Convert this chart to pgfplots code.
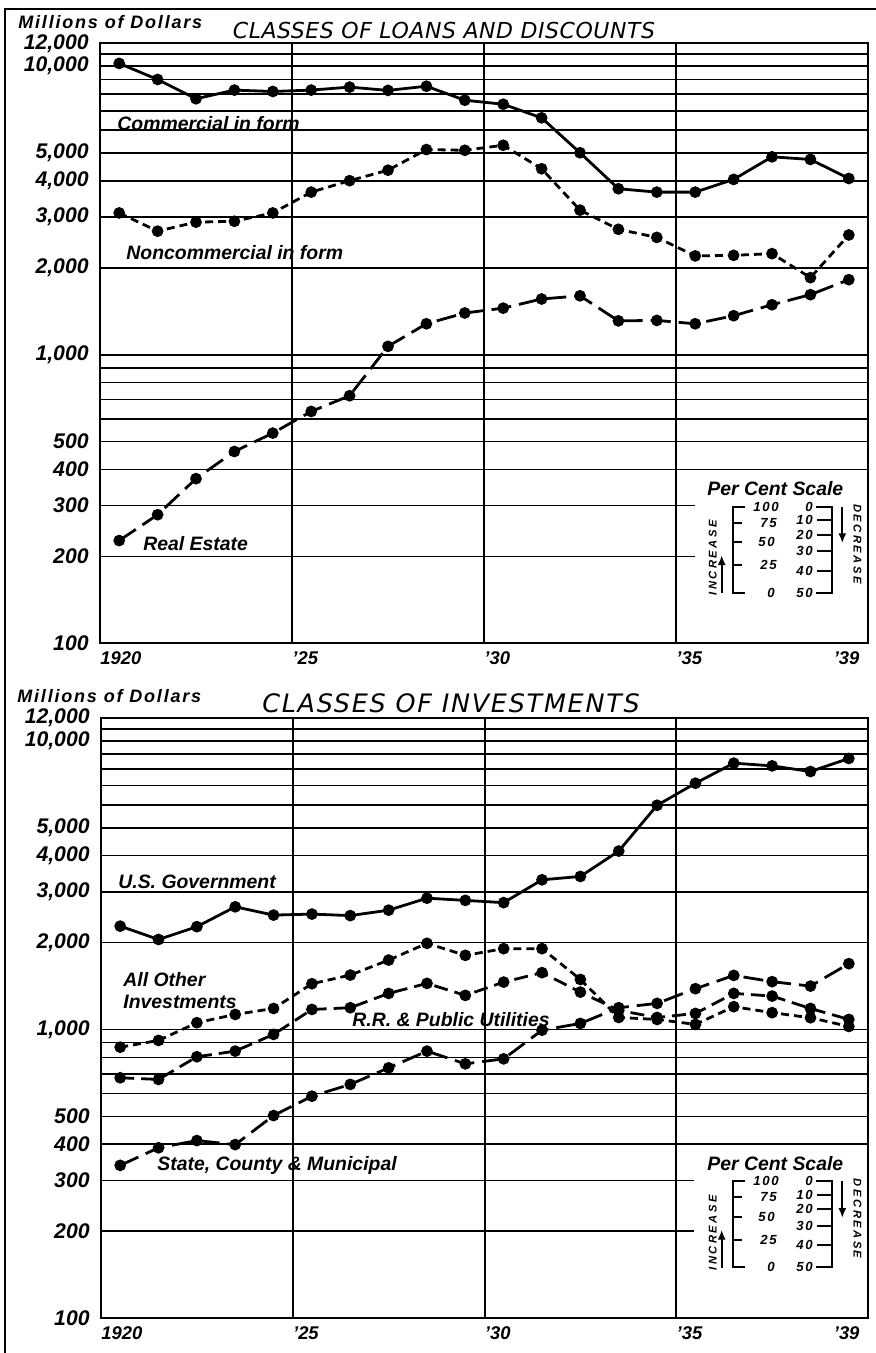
\documentclass[border=0pt]{standalone}
\usepackage{fontspec}
\setmainfont{Liberation Sans}
\newfontfamily\titleA[LetterSpace=2.5]{DejaVu Sans}
\newfontfamily\titleB[LetterSpace=7]{DejaVu Sans}
\newfontfamily\millf[LetterSpace=10]{Liberation Sans}
\newfontfamily\widef[LetterSpace=22]{Liberation Sans}
\newfontfamily\numf[LetterSpace=12]{Liberation Sans}
\usepackage{pgfplots}
\pgfplotsset{compat=1.18}
\usetikzlibrary{arrows.meta}

\newcommand{\ytickfont}{\fontsize{10.6}{12}\selectfont\bfseries\itshape}
\newcommand{\xtickfont}{\fontsize{9.2}{11}\selectfont\bfseries\itshape}
\newcommand{\labfont}{\fontsize{9.7}{11}\selectfont\bfseries\itshape}
\newcommand{\insfont}{\numf\fontsize{6.6}{7}\selectfont\bfseries\itshape}

\newcommand{\inset}[1]{%
\begin{scope}[shift={(0,#1)}]
 \node[anchor=base west, inner sep=0pt, font=\labfont] at (707,495.7) {Per Cent Scale};
 \draw[line width=1pt] (745,506.7) -- (732.7,506.7) -- (732.7,592.7) -- (745,592.7);
 \foreach \yy in {522.6,541.9,564.8} \draw[line width=1pt] (732.7,\yy) -- (742,\yy);
 \node[anchor=east, inner sep=0pt, font=\insfont] at (779,506.7) {100};
 \node[anchor=east, inner sep=0pt, font=\insfont] at (777,522.6) {75};
 \node[anchor=east, inner sep=0pt, font=\insfont] at (775,541.9) {50};
 \node[anchor=east, inner sep=0pt, font=\insfont] at (777,564.8) {25};
 \node[anchor=east, inner sep=0pt, font=\insfont] at (775,592.7) {0};
 \draw[line width=1pt] (816,506.7) -- (831.7,506.7) -- (831.7,592.7) -- (816,592.7);
 \foreach \yy in {519.9,534.6,551.4,570.7} \draw[line width=1pt] (817,\yy) -- (831.7,\yy);
 \node[anchor=east, inner sep=0pt, font=\insfont] at (813,506.7) {0};
 \node[anchor=east, inner sep=0pt, font=\insfont] at (813,519.9) {10};
 \node[anchor=east, inner sep=0pt, font=\insfont] at (813,534.6) {20};
 \node[anchor=east, inner sep=0pt, font=\insfont] at (813,551.4) {30};
 \node[anchor=east, inner sep=0pt, font=\insfont] at (813,570.7) {40};
 \node[anchor=east, inner sep=0pt, font=\insfont] at (813,592.7) {50};
 \draw[line width=1pt, -{Latex[length=5pt,width=4pt]}] (721.7,593) -- (721.7,555);
 \draw[line width=1pt, -{Latex[length=5pt,width=4pt]}] (842.3,506.7) -- (842.3,543.3);
 \node[rotate=90, inner sep=0pt, font=\widef\fontsize{5.6}{6}\selectfont\bfseries\itshape] at (712.7,558) {INCREASE};
 \node[rotate=-90, inner sep=0pt, font=\widef\fontsize{5.6}{6}\selectfont\bfseries\itshape] at (857.5,544) {DECREASE};
\end{scope}}

\begin{document}
\begin{tikzpicture}
\begin{scope}[x=0.5pt,y=-0.5pt]
\useasboundingbox (0,0) rectangle (876,1353);
\draw[line width=1pt] (876,9) -- (5,9) -- (5,1353);
\end{scope}

% ---------------- top panel ----------------
\begin{axis}[at={(50pt,-321.65pt)}, anchor=south west, width=384pt,
  scale only axis, height=300pt,
  xmin=1920, xmax=1940, ymode=log, ymin=100, ymax=12000,
  axis line style={line width=1pt},
  major tick length=0pt, minor tick length=0pt,
  /pgf/number format/assume math mode=true,
  xtick={1920,1925,1930,1935,1939.1}, xticklabels={1920,'25,'30,'35,'39},
  xmajorgrids=false,
  xticklabel style={anchor=north west, inner xsep=0pt, inner ysep=0pt, yshift=-4pt, font=\xtickfont},
  ytick={100,200,300,400,500,1000,2000,3000,4000,5000,10000,12000},
  yticklabels={100,200,300,400,500,{1,000},{2,000},{3,000},{4,000},{5,000},{10,000},{12,000}},
  ymajorgrids=false,
  yticklabel style={anchor=east, inner xsep=0pt, xshift=-5.5pt, font=\ytickfont},
]
\foreach \v in {400,500,600,700,800,900,1000,2000,3000,4000,5000,6000,7000,8000,9000,10000,11000}
  {\edef\tmp{\noexpand\draw[line width=0.8pt] (axis cs:1920,\v) -- (axis cs:1940,\v);}\tmp}
\draw[line width=0.8pt] (axis cs:1920,200) -- (axis cs:1935.5,200);
\draw[line width=0.8pt] (axis cs:1920,300) -- (axis cs:1935.5,300);
\foreach \yr in {1925,1930,1935}
  {\edef\tmp{\noexpand\draw[line width=1pt] (axis cs:\yr,100) -- (axis cs:\yr,12000);}\tmp}
% Commercial in form
\addplot[black, line width=1.4pt, solid, mark=*, mark size=2.2pt, mark options={solid}] coordinates {
(1920.5,10220) (1921.5,8990) (1922.5,7710) (1923.5,8260) (1924.5,8170)
(1925.5,8260) (1926.5,8460) (1927.5,8240) (1928.5,8520) (1929.5,7620)
(1930.5,7380) (1931.5,6620) (1932.5,5010) (1933.5,3760) (1934.5,3660)
(1935.5,3660) (1936.5,4050) (1937.5,4850) (1938.5,4750) (1939.5,4080)};
% Noncommercial in form
\addplot[black, line width=1.4pt, dash pattern=on 4pt off 2.5pt, mark=*, mark size=2.2pt, mark options={solid}] coordinates {
(1920.5,3100) (1921.5,2680) (1922.5,2880) (1923.5,2900) (1924.5,3100)
(1925.5,3660) (1926.5,4010) (1927.5,4360) (1928.5,5140) (1929.5,5110)
(1930.5,5320) (1931.5,4410) (1932.5,3170) (1933.5,2720) (1934.5,2550)
(1935.5,2200) (1936.5,2210) (1937.5,2240) (1938.5,1850) (1939.5,2600)};
% Real Estate
\addplot[black, line width=1.4pt, dash pattern=on 10pt off 4pt, mark=*, mark size=2.2pt, mark options={solid}] coordinates {
(1920.5,227) (1921.5,279) (1922.5,372) (1923.5,462) (1924.5,535)
(1925.5,636) (1926.5,721) (1927.5,1069) (1928.5,1280) (1929.5,1395)
(1930.5,1450) (1931.5,1560) (1932.5,1600) (1933.5,1310) (1934.5,1315)
(1935.5,1280) (1936.5,1365) (1937.5,1490) (1938.5,1615) (1939.5,1820)};
\end{axis}

% ---------------- bottom panel ----------------
\begin{axis}[at={(50.5pt,-659pt)}, anchor=south west, width=383.5pt,
  scale only axis, height=300pt,
  xmin=1920, xmax=1940, ymode=log, ymin=100, ymax=12000,
  axis line style={line width=1pt},
  major tick length=0pt, minor tick length=0pt,
  /pgf/number format/assume math mode=true,
  xtick={1920,1925,1930,1935,1939.1}, xticklabels={1920,'25,'30,'35,'39},
  xmajorgrids=false,
  xticklabel style={anchor=north west, inner xsep=0pt, inner ysep=0pt, yshift=-4pt, font=\xtickfont},
  ytick={100,200,300,400,500,1000,2000,3000,4000,5000,10000,12000},
  yticklabels={100,200,300,400,500,{1,000},{2,000},{3,000},{4,000},{5,000},{10,000},{12,000}},
  ymajorgrids=false,
  yticklabel style={anchor=east, inner xsep=0pt, xshift=-5.5pt, font=\ytickfont},
]
\foreach \v in {400,500,600,700,800,900,1000,2000,3000,4000,5000,6000,7000,8000,9000,10000,11000}
  {\edef\tmp{\noexpand\draw[line width=0.8pt] (axis cs:1920,\v) -- (axis cs:1940,\v);}\tmp}
\draw[line width=0.8pt] (axis cs:1920,200) -- (axis cs:1935.45,200);
\draw[line width=0.8pt] (axis cs:1920,300) -- (axis cs:1935.45,300);
\foreach \yr in {1925,1930,1935}
  {\edef\tmp{\noexpand\draw[line width=1pt] (axis cs:\yr,100) -- (axis cs:\yr,12000);}\tmp}
% U.S. Government
\addplot[black, line width=1.4pt, solid, mark=*, mark size=2.2pt, mark options={solid}] coordinates {
(1920.5,2280) (1921.5,2050) (1922.5,2270) (1923.5,2660) (1924.5,2490)
(1925.5,2510) (1926.5,2480) (1927.5,2590) (1928.5,2850) (1929.5,2800)
(1930.5,2750) (1931.5,3300) (1932.5,3390) (1933.5,4150) (1934.5,5980)
(1935.5,7130) (1936.5,8370) (1937.5,8190) (1938.5,7830) (1939.5,8690)};
% All Other Investments
\addplot[black, line width=1.4pt, dash pattern=on 4pt off 2.5pt, mark=*, mark size=2.2pt, mark options={solid}] coordinates {
(1920.5,868) (1921.5,916) (1922.5,1055) (1923.5,1127) (1924.5,1182)
(1925.5,1440) (1926.5,1543) (1927.5,1739) (1928.5,1988) (1929.5,1806)
(1930.5,1905) (1931.5,1905) (1932.5,1490) (1933.5,1100) (1934.5,1083)
(1935.5,1041) (1936.5,1199) (1937.5,1143) (1938.5,1098) (1939.5,1024)};
% R.R. & Public Utilities
\addplot[black, line width=1.4pt, dash pattern=on 7pt off 3.5pt, mark=*, mark size=2.2pt, mark options={solid}] coordinates {
(1920.5,680) (1921.5,671) (1922.5,804) (1923.5,841) (1924.5,961)
(1925.5,1173) (1926.5,1189) (1927.5,1333) (1928.5,1444) (1929.5,1312)
(1930.5,1459) (1931.5,1573) (1932.5,1347) (1933.5,1164) (1934.5,1100)
(1935.5,1136) (1936.5,1333) (1937.5,1305) (1938.5,1182) (1939.5,1083)};
% State, County & Municipal
\addplot[black, line width=1.4pt, dash pattern=on 10pt off 4pt, mark=*, mark size=2.2pt, mark options={solid}] coordinates {
(1920.5,338) (1921.5,389) (1922.5,412) (1923.5,399) (1924.5,503)
(1925.5,587) (1926.5,645) (1927.5,736) (1928.5,841) (1929.5,760)
(1930.5,791) (1931.5,994) (1932.5,1049) (1933.5,1189) (1934.5,1231)
(1935.5,1384) (1936.5,1539) (1937.5,1464) (1938.5,1413) (1939.5,1690)};
\end{axis}

\begin{scope}[x=0.5pt,y=-0.5pt]
% top titles
\node[anchor=base west, inner sep=0pt, font=\millf\fontsize{9}{10}\selectfont\bfseries\itshape] at (18,29) {Millions of Dollars};
\node[anchor=base, inner sep=0pt, font=\titleA\fontsize{11}{13}\selectfont\itshape] at (444,38.5) {CLASSES OF LOANS AND DISCOUNTS};
\node[anchor=base west, inner sep=0pt, font=\labfont] at (117,130.5) {Commercial in form};
\node[anchor=base west, inner sep=0pt, font=\labfont] at (126,260) {Noncommercial in form};
\node[anchor=base west, inner sep=0pt, font=\labfont] at (143,550) {Real Estate};
\inset{0}
% bottom titles
\node[anchor=base west, inner sep=0pt, font=\millf\fontsize{9}{10}\selectfont\bfseries\itshape] at (17,702) {Millions of Dollars};
\node[anchor=base, inner sep=0pt, font=\titleB\fontsize{12.7}{15}\selectfont\itshape] at (451,712) {CLASSES OF INVESTMENTS};
\node[anchor=base west, inner sep=0pt, font=\labfont] at (118,888) {U.S. Government};
\node[anchor=base west, inner sep=0pt, font=\labfont] at (123,986) {All Other};
\node[anchor=base west, inner sep=0pt, font=\labfont] at (123,1008) {Investments};
\node[anchor=base west, inner sep=0pt, font=\labfont] at (352,1026) {R.R. \& Public Utilities};
\node[anchor=base west, inner sep=0pt, font=\labfont] at (157,1170) {State, County \& Municipal};
\inset{674.7}
\end{scope}
\end{tikzpicture}
\end{document}
